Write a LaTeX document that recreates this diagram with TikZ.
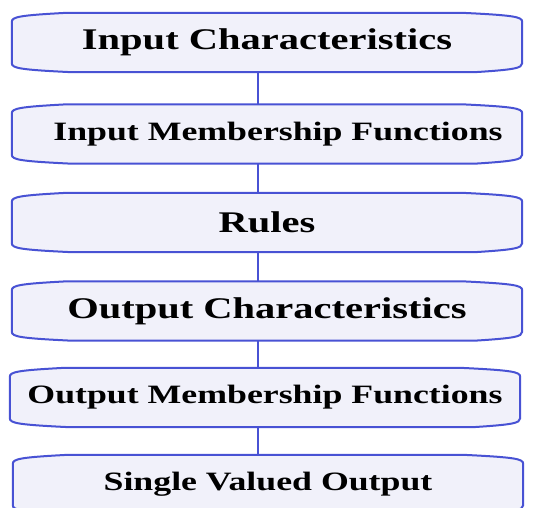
\documentclass[tikz,border=0pt]{standalone}
\usepackage{fontspec}
\setmainfont{Liberation Serif}
\newfontfamily\stagefont[FakeStretch=1.35]{Liberation Serif}
\usetikzlibrary{calc,backgrounds}

\definecolor{stageblue}{RGB}{72,82,212}
\definecolor{stagefill}{RGB}{241,241,250}

\tikzset{
  stage/.style={rectangle, minimum width=510pt, minimum height=59pt, inner sep=0pt},
  stageline/.style={draw=stageblue, fill=stagefill, line width=2pt, line join=round},
  bigtext/.style={font=\stagefont\bfseries\fontsize{30}{36}\selectfont},
  smalltext/.style={font=\stagefont\bfseries\fontsize{26.5}{32}\selectfont},
  link/.style={draw=stageblue, line width=2pt}
}

\begin{document}
\begin{tikzpicture}[x=1pt,y=1pt,yscale=-1]
  \useasboundingbox (0,0) rectangle (543,507);

  % column the connectors run along
  \coordinate (spine) at (258,0);

  % stages
  \node [stage, bigtext] (inchar) at (267,42.5) {Input Characteristics};
  \node [stage, smalltext] (inmf) at (267,134) {\hspace*{22pt}Input Membership Functions};
  \node [stage, bigtext] (rules) at (267,222.5) {Rules};
  \node [stage, bigtext] (outchar) at (267,311) {Output Characteristics};
  \node [stage, smalltext] (outmf) at (265,397.5) {Output Membership Functions};
  \node [stage, smalltext] (output) at (268,484.5) {Single Valued Output};

  % box outlines with curved shoulders
  \begin{scope}[on background layer]
    \foreach \n in {inchar,inmf,rules,outchar,outmf,output}
      \draw [stageline] ($(\n.north west)+(0,9)$)
        .. controls ($(\n.north west)+(0,4)$) and ($(\n.north west)+(8,2.5)$) .. ($(\n.north west)+(55,0)$)
        -- ($(\n.north east)+(-60,0)$)
        .. controls ($(\n.north east)+(-8,2.5)$) and ($(\n.north east)+(0,4)$) .. ($(\n.north east)+(0,9)$)
        -- ($(\n.south east)+(0,-9)$)
        .. controls ($(\n.south east)+(0,-4)$) and ($(\n.south east)+(-8,-2.5)$) .. ($(\n.south east)+(-48,0)$)
        -- ($(\n.south west)+(60,0)$)
        .. controls ($(\n.south west)+(8,-2.5)$) and ($(\n.south west)+(0,-4)$) .. ($(\n.south west)+(0,-9)$)
        -- cycle;
  \end{scope}

  % links between stages
  \foreach \a/\b in {inchar/inmf, inmf/rules, rules/outchar, outchar/outmf, outmf/output}
    \draw [link] (\a.south -| spine) -- (\b.north -| spine);
\end{tikzpicture}
\end{document}
